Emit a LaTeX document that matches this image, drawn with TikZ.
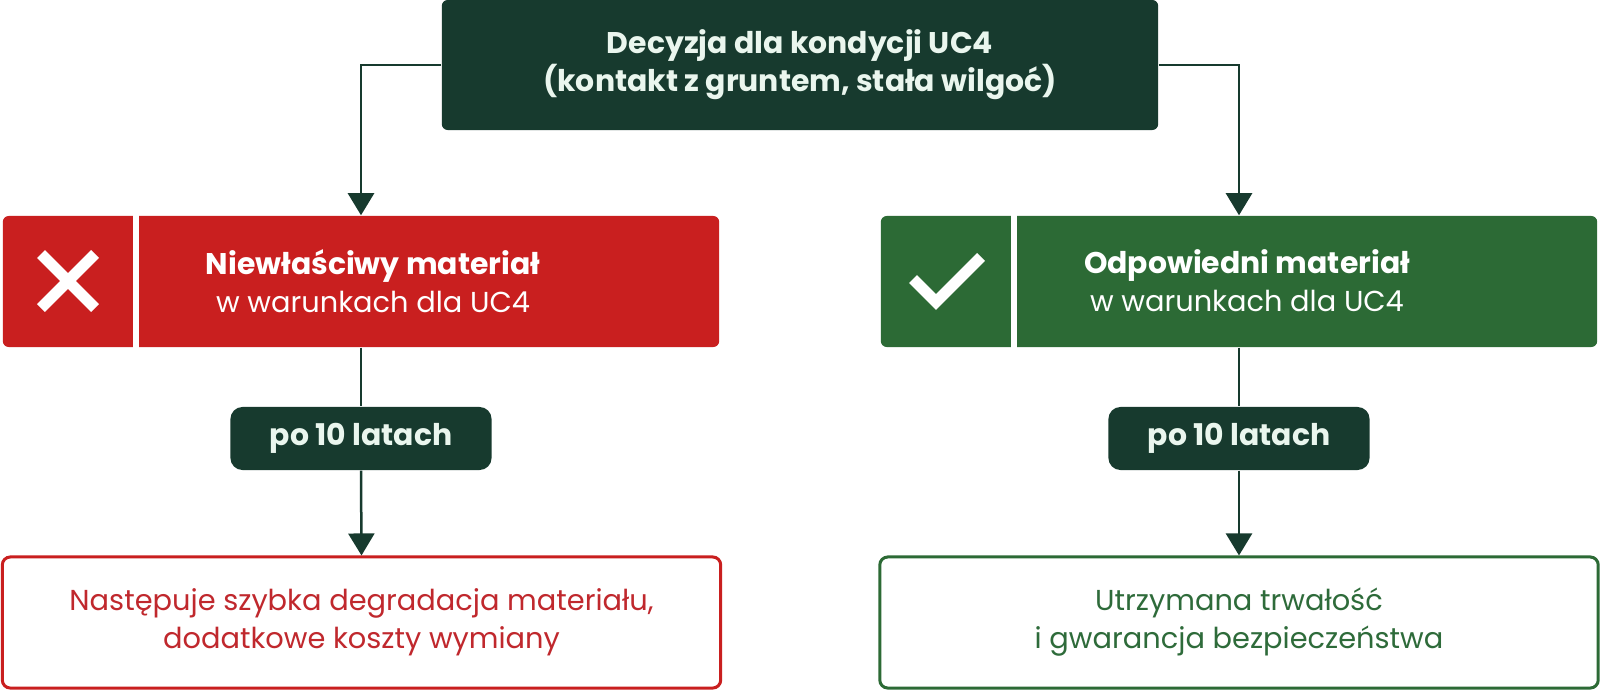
\documentclass[tikz,border=0pt]{standalone}
\usepackage{fontspec}
\setmainfont{Poppins}
\usepackage{tikz}
\usepackage{xcolor}
\usetikzlibrary{arrows.meta,calc,positioning}
\definecolor{headgreen}{RGB}{23, 58, 46}
\definecolor{badred}{RGB}{201, 31, 31}
\definecolor{goodgreen}{RGB}{44, 106, 53}
\definecolor{lighttext}{RGB}{234, 246, 238}
\definecolor{badtext}{RGB}{192, 40, 45}
\definecolor{goodtext}{RGB}{46, 107, 58}

\begin{document}
\begin{tikzpicture}[x=0.01cm, y=-0.01cm,
  txt/.style={font=\fontsize{8.2}{10.8}\selectfont, align=center},
  boldtxt/.style={font=\fontsize{8.5}{10.8}\selectfont\bfseries, align=center},
  headbox/.style={boldtxt, fill=headgreen, text=lighttext, rounded corners=0.06cm, inner sep=0pt},
  statebox/.style={rounded corners=0.06cm, minimum width=7.16cm, minimum height=1.31cm, inner sep=0pt},
  pill/.style={headbox, minimum width=2.61cm, minimum height=0.63cm, rounded corners=0.12cm},
  endbox/.style={txt, draw, line width=0.03cm, fill=white, rounded corners=0.08cm, minimum width=7.18cm, minimum height=1.31cm},
  link/.style={headgreen, line width=0.025cm},
  arrow/.style={link, -{Triangle[width=0.26cm, length=0.22cm]}},
  divider/.style={white, line width=0.06cm},
  icon/.style={white, line width=0.11cm}]

  % Page size
  \useasboundingbox (0,0) rectangle (1600,691);

  % Decision on top
  \node[headbox, minimum width=7.16cm, minimum height=1.30cm] (decision) at (800,65)
    {Decyzja dla kondycji UC4\\(kontakt z gruntem, stała wilgoć)};

  % Wrong material
  \node[statebox, fill=badred] (bad) at (361,281.5) {};
  \draw[divider] ($(bad.north west)+(134,0)$) -- ($(bad.south west)+(134,0)$);
  \draw[icon] (41,254) -- (95,308) (41,308) -- (95,254);
  \node[txt, text=white] (badlabel) at (373,281)
    {{\bfseries\fontsize{8.5}{10.8}\selectfont Niewłaściwy materiał}\\ w warunkach dla UC4};

  % Right material
  \node[statebox, fill=goodgreen] (good) at (1239,281.5) {};
  \draw[divider] ($(good.north west)+(134,0)$) -- ($(good.south west)+(134,0)$);
  \draw[icon] (913,279) -- (936,302) -- (981,257);
  \node[txt, text=white] (goodlabel) at (1247,281)
    {{\bfseries\fontsize{8.5}{10.8}\selectfont Odpowiedni materiał}\\ w warunkach dla UC4};

  % After ten years
  \node[pill] (badyears) at (361,438.5) {po 10 latach};
  \node[pill] (goodyears) at (1239,438.5) {po 10 latach};

  % Outcomes
  \node[endbox, draw=badred, text=badtext] (badend) at (361.5,622.5)
    {Następuje szybka degradacja materiału,\\dodatkowe koszty wymiany};
  \node[endbox, draw=goodgreen, text=goodtext] (goodend) at (1239,622.5)
    {Utrzymana trwałość\\i gwarancja bezpieczeństwa};

  % Connectors
  \draw[arrow] (decision.west) -| (bad.north);
  \draw[arrow] (decision.east) -| (good.north);
  \draw[link] (bad.south) -- (badyears.north);
  \draw[link] (good.south) -- (goodyears.north);
  \draw[arrow] (badyears.south) -- (badend.north);
  \draw[arrow] (goodyears.south) -- (goodend.north);

\end{tikzpicture}
\end{document}
